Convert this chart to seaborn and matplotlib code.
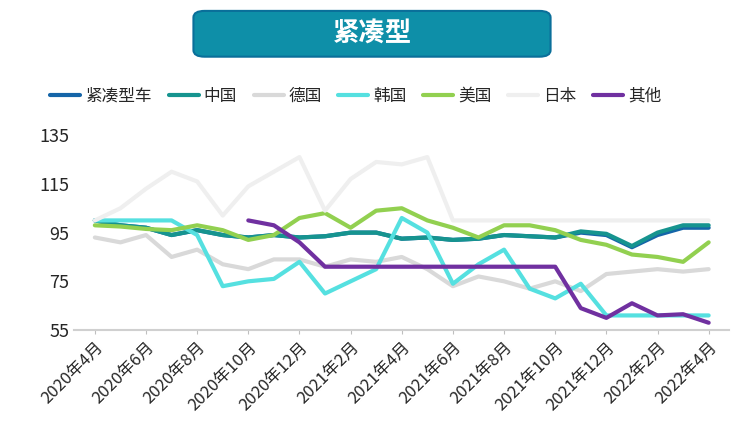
import numpy as np
import pandas as pd
import seaborn as sns
import matplotlib.pyplot as plt
from matplotlib.patches import FancyBboxPatch

sns.set_style("white")
plt.rcParams["font.family"] = ["Noto Sans CJK SC", "DejaVu Sans"]
plt.rcParams["font.sans-serif"] = ["Noto Sans CJK SC", "DejaVu Sans"]

months = pd.date_range("2020-04-01", "2022-04-01", freq="MS")
labels = [f"{d.year}年{d.month}月" for d in months]

compact = [100, 98, 97, 94, 96, 94, 93, 94, 93, 93.5, 95, 95, 92.5, 93, 92, 92.5, 94, 93.5, 93, 95, 94, 89, 94, 97, 97]
china = [100, 98, 97, 94, 96, 94, 93, 94, 93, 93.5, 95, 95, 92.5, 93, 92, 92.5, 94, 93.5, 93, 95.5, 94.5, 89.5, 95, 98, 98]
germany = [93, 91, 94, 85, 88, 82, 80, 84, 84, 81, 84, 83, 85, 80, 73, 77, 75, 72, 75, 71, 78, 79, 80, 79, 80]
korea = [100, 100, 100, 100, 94, 73, 75, 76, 83, 70, 75, 80, 101, 95, 74, 82, 88, 72, 68, 74, 61, 61, 61, 61, 61]
usa = [98, 97.5, 96.5, 96, 98, 96, 92, 94, 101, 103, 97, 104, 105, 100, 97, 93, 98, 98, 96, 92, 90, 86, 85, 83, 91]
japan = [100, 105, 113, 120, 116, 102, 114, 120, 126, 104, 117, 124, 123, 126, 100, 100, 100, 100, 100, 100, 100, 100, 100, 100, 100]
other = [None] * 6 + [100, 98, 91, 81, 81, 81, 81, 81, 81, 81, 81, 81, 81, 64, 60, 66, 61, 61.5, 58]

series = [
    ("紧凑型车", compact, "#1565a8"),
    ("中国", china, "#16948f"),
    ("德国", germany, "#d9d9d9"),
    ("韩国", korea, "#55e0e0"),
    ("美国", usa, "#92d050"),
    ("日本", japan, "#efefef"),
    ("其他", other, "#7030a0"),
]

fig = plt.figure(figsize=(7.44, 4.36), dpi=100)
ax = fig.add_axes([0.1, 0.243, 0.88, 0.447])
x = np.arange(len(labels))
for name, vals, color in series:
    v = np.array([np.nan if a is None else a for a in vals], dtype=float)
    sns.lineplot(x=x, y=v, ax=ax, color=color, linewidth=3, label=name)

ax.set_ylim(55, 135)
ax.set_yticks([55, 75, 95, 115, 135])
ax.set_xlim(-0.8, len(labels) - 0.2)
ax.set_xticks(x[::2])
ax.set_xticklabels(labels[::2], rotation=45, ha="right", rotation_mode="anchor", fontsize=12)
ax.tick_params(axis="y", labelsize=13, length=0)
ax.tick_params(axis="x", length=3, color="#bfbfbf", bottom=True)
for s in ["top", "right", "left"]:
    ax.spines[s].set_visible(False)
ax.spines["bottom"].set_color("#d0d0d0")
ax.spines["bottom"].set_linewidth(1.5)
ax.legend(ncol=7, loc="lower center", bbox_to_anchor=(0.43, 1.08), frameon=False,
          fontsize=12, handlelength=1.8, columnspacing=1.0, handletextpad=0.3)

box = FancyBboxPatch((0.265, 0.875), 0.47, 0.095, boxstyle="round,pad=0.005,rounding_size=0.015",
                     transform=fig.transFigure, facecolor="#0e8fa8", edgecolor="#0a6f9a", linewidth=1.5)
fig.patches.append(box)
fig.text(0.5, 0.922, "紧凑型", color="white", fontsize=19, ha="center", va="center", fontweight="bold")

fig.savefig("out.png", dpi=100)
